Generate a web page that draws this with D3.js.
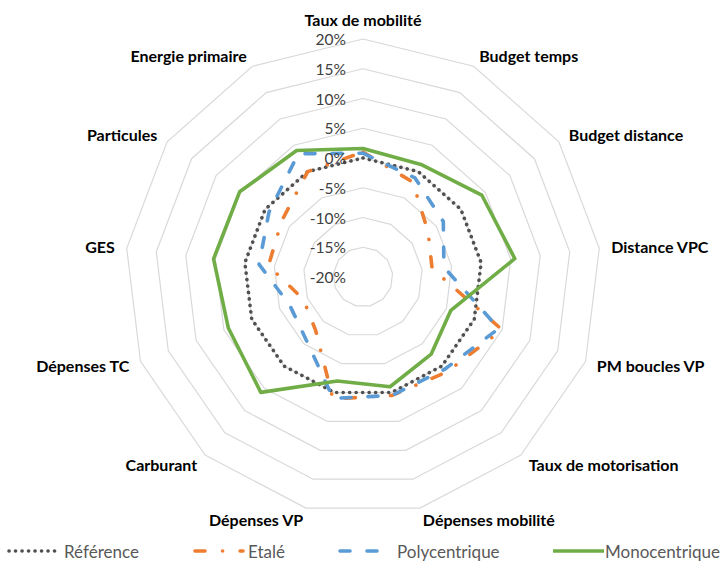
<!DOCTYPE html>
<html>
<head>
<meta charset="utf-8">
<script src="https://cdn.jsdelivr.net/npm/d3@7"></script>
<style>
  html, body { margin: 0; padding: 0; background: #fff; }
  svg { display: block; }
</style>
</head>
<body>
<div id="chart"></div>
<script>
const categories = ["Taux de mobilité", "Budget temps", "Budget distance", "Distance VPC", "PM boucles VP", "Taux de motorisation", "Dépenses mobilité", "Dépenses VP", "Carburant", "Dépenses TC", "GES", "Particules", "Energie primaire"];
const reference     = [0, 0, 0, 0, 0, 0, 0, 0, 0, 0, 0, 0, 0];
const etale         = [0.010, -0.020, -0.067, -0.083, 0.050, 0.013, 0.005, 0.011, -0.080, -0.093, -0.040, -0.034, 0.000];
const polycentrique = [0.008, -0.012, -0.036, -0.063, 0.044, 0.007, 0.005, 0.010, -0.057, -0.068, -0.024, -0.008, 0.034];
const monocentrique = [0.016, 0.013, 0.0425, 0.057, -0.042, -0.027, -0.010, -0.020, 0.059, 0.042, 0.053, 0.052, 0.040];
const tickValues = [-0.20, -0.15, -0.10, -0.05, 0, 0.05, 0.10, 0.15, 0.20];
const seriesNames = ["Référence", "Etalé", "Polycentrique", "Monocentrique"];

const W = 725, H = 562;
const cx = 363, cy = 277, R = 238;

const svg = d3.select("#chart").append("svg").attr("width", W).attr("height", H);

const r = d3.scaleLinear().domain([-0.20, 0.20]).range([0, R]);
const n = categories.length;
const angle = d3.scaleLinear().domain([0, n]).range([0, 2 * Math.PI]);

const g = svg.append("g").attr("transform", `translate(${cx},${cy})`);

// grid rings
const ringLine = d3.lineRadial()
  .angle((d, i) => angle(i))
  .radius(d => r(d))
  .curve(d3.curveLinearClosed);

g.append("g").selectAll("path").data(tickValues.slice(1)).join("path")
  .attr("d", v => ringLine(categories.map(() => v)))
  .attr("fill", "none")
  .attr("stroke", "#d9d9d9")
  .attr("stroke-width", 1.2);

// series
const styles = [
  { color: "#505050", dash: "0.1,6.4", width: 3.6 },
  { color: "#ed7d31", dash: "10,17.5,0.1,17.5", width: 3.6 },
  { color: "#5b9bd5", dash: "10,17", width: 3.6 },
  { color: "#70ad47", dash: null, width: 3.6 }
];
const seriesData = [reference, etale, polycentrique, monocentrique];

const seriesLine = d3.lineRadial()
  .angle((d, i) => angle(i))
  .radius(d => r(d))
  .curve(d3.curveLinearClosed);

seriesData.forEach((vals, si) => {
  const s = styles[si];
  g.append("path")
    .attr("d", seriesLine(vals))
    .attr("fill", "none")
    .attr("stroke", s.color)
    .attr("stroke-width", s.width)
    .attr("stroke-linecap", "round")
    .attr("stroke-linejoin", "round")
    .attr("stroke-dasharray", s.dash);
});

// tick labels
g.append("g").selectAll("text").data(tickValues).join("text")
  .attr("x", -17)
  .attr("y", v => -r(v))
  .attr("text-anchor", "end")
  .attr("dominant-baseline", "central")
  .attr("font-family", "Lato, 'Open Sans', sans-serif")
  .attr("font-size", 15.5)
  .attr("fill", "#404040")
  .text(v => d3.format(".0%")(v).replace("−", "-"));

// category labels
g.append("g").selectAll("text").data(categories).join("text")
  .each(function(d, i) {
    const a = angle(i);
    const sx = Math.sin(a), sy = -Math.cos(a);
    const rr = i === 0 ? R + 20 : R + 12;
    const x = rr * sx, y = rr * sy;
    const anchor = Math.abs(sx) < 0.05 ? "middle" : (sx > 0 ? "start" : "end");
    d3.select(this)
      .attr("x", x)
      .attr("y", y)
      .attr("text-anchor", anchor);
  })
  .attr("dominant-baseline", "central")
  .attr("font-family", "Lato, 'Open Sans', sans-serif")
  .attr("font-weight", "bold")
  .attr("font-size", 16)
  .attr("fill", "#000")
  .text(d => d);

// legend
const legendY = 551;
const legendItems = [
  { x1: 9, x2: 55, tx: 64 },
  { x1: 195, x2: 243, tx: 248 },
  { x1: 340, x2: 385, tx: 397 },
  { x1: 553, x2: 604, tx: 605 }
];
const lg = svg.append("g");
legendItems.forEach((it, i) => {
  const s = styles[i];
  lg.append("line")
    .attr("x1", it.x1).attr("x2", it.x2)
    .attr("y1", legendY).attr("y2", legendY)
    .attr("stroke", s.color)
    .attr("stroke-width", s.width)
    .attr("stroke-linecap", i === 3 ? "butt" : "round")
    .attr("stroke-dasharray", s.dash);
  lg.append("text")
    .attr("x", it.tx).attr("y", legendY)
    .attr("dominant-baseline", "central")
    .attr("font-family", "Lato, 'Open Sans', sans-serif")
    .attr("font-size", 17)
    .attr("fill", "#595959")
    .text(seriesNames[i]);
});
</script>
</body>
</html>
